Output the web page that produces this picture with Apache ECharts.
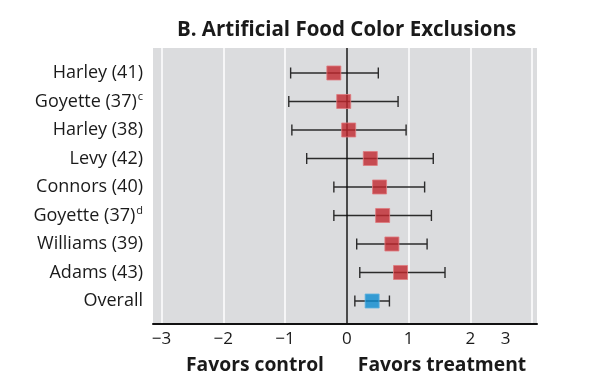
<!DOCTYPE html>
<html>
<head>
<meta charset="utf-8">
<script src="https://cdn.jsdelivr.net/npm/echarts@6/dist/echarts.min.js"></script>
<style>html,body{margin:0;padding:0;background:#fff}#c{width:595px;height:385px}</style>
</head>
<body>
<div id="c"></div>
<script>
var studies = ['Harley (41)', 'Goyette (37)', 'Harley (38)', 'Levy (42)', 'Connors (40)', 'Goyette (37)', 'Williams (39)', 'Adams (43)', 'Overall'];
var notes = ['', 'c', '', '', '', 'd', '', '', ''];
var effect = [-0.21, -0.05, 0.03, 0.38, 0.53, 0.58, 0.73, 0.87, 0.41];
var lower = [-0.91, -0.94, -0.89, -0.65, -0.21, -0.21, 0.16, 0.21, 0.13];
var upper = [0.51, 0.83, 0.96, 1.40, 1.26, 1.37, 1.30, 1.59, 0.69];
var xTickValues = [-3, -2, -1, 0, 1, 2, 3];
var xLabelValues = [-3, -2, -1, 0, 1, 2, 2.57];
var xLabelTexts = ['\u22123', '\u22122', '\u22121', '0', '1', '2', '3'];

var FONT = 'Open Sans';
var rowIdx = studies.map(function (s, i) { return i; });

var chart = echarts.init(document.getElementById('c'), null, {renderer: 'canvas'});
chart.setOption({
  animation: false,
  graphic: [
    {type: 'text', z: 10, style: {text: 'B. Artificial Food Color Exclusions', x: 346.5, y: 30, textAlign: 'center', textVerticalAlign: 'middle', fontFamily: FONT, fontWeight: 'bold', fontSize: 20.5, fill: '#1a1a1a'}},
    {type: 'text', style: {text: 'Favors control', x: 255, y: 366, textAlign: 'center', textVerticalAlign: 'middle', fontFamily: FONT, fontWeight: 'bold', fontSize: 19.3, fill: '#1a1a1a'}},
    {type: 'text', style: {text: 'Favors treatment', x: 442, y: 366, textAlign: 'center', textVerticalAlign: 'middle', fontFamily: FONT, fontWeight: 'bold', fontSize: 19.3, fill: '#1a1a1a'}}
  ],
  grid: {left: 153, right: 58, top: 48, bottom: 61, show: true, backgroundColor: '#dbdcde', borderWidth: 0},
  xAxis: {
    type: 'value', min: -3.139, max: 3.08,
    axisLine: {show: true, onZero: false, lineStyle: {color: '#111', width: 2}},
    axisTick: {show: false, customValues: xTickValues},
    splitLine: {show: true, lineStyle: {color: '#ffffff', width: 1.5}},
    axisLabel: {
      customValues: xLabelValues, margin: 7,
      fontFamily: FONT, fontSize: 17, color: '#1a1a1a',
      formatter: function (v) {
        var i = xLabelValues.indexOf(v);
        return i >= 0 ? xLabelTexts[i] : '';
      }
    }
  },
  yAxis: {
    type: 'value', inverse: true, min: -0.877, max: 8.807,
    axisLine: {show: false}, axisTick: {show: false}, splitLine: {show: false},
    axisLabel: {
      customValues: rowIdx, margin: 10,
      formatter: function (v) {
        var i = Math.round(v);
        return notes[i] ? '{n|' + studies[i] + '}{s|' + notes[i] + '}' : '{n|' + studies[i] + '}';
      },
      rich: {
        n: {fontFamily: FONT, fontSize: 18, color: '#1a1a1a'},
        s: {fontFamily: FONT, fontSize: 11, color: '#1a1a1a', verticalAlign: 'top', padding: [0, 0, 10, 1]}
      }
    }
  },
  series: [
    {
      type: 'custom',
      z: 3,
      data: rowIdx.map(function (i) { return [lower[i], upper[i], i]; }),
      renderItem: function (params, api) {
        var a = api.coord([api.value(0), api.value(2)]);
        var b = api.coord([api.value(1), api.value(2)]);
        var h = 5.5;
        var st = {stroke: '#2b2b2b', lineWidth: 1.4};
        return {type: 'group', children: [
          {type: 'line', shape: {x1: a[0], y1: a[1], x2: b[0], y2: b[1]}, style: st},
          {type: 'line', shape: {x1: a[0], y1: a[1] - h, x2: a[0], y2: a[1] + h}, style: st},
          {type: 'line', shape: {x1: b[0], y1: b[1] - h, x2: b[0], y2: b[1] + h}, style: st}
        ]};
      },
      markLine: {
        silent: true, symbol: 'none', label: {show: false},
        lineStyle: {color: '#111', width: 1.5, type: 'solid'},
        data: [{xAxis: 0}]
      }
    },
    {
      type: 'scatter', z: 5,
      symbol: 'rect', symbolSize: 14,
      data: rowIdx.map(function (i) {
        var overall = studies[i] === 'Overall';
        return {value: [effect[i], i], itemStyle: {
          color: overall ? '#0a8bd0' : '#c1272d',
          borderColor: overall ? '#5fb3e0' : '#e07a7e', borderWidth: 1
        }};
      })
    }
  ]
});
</script>
</body>
</html>
